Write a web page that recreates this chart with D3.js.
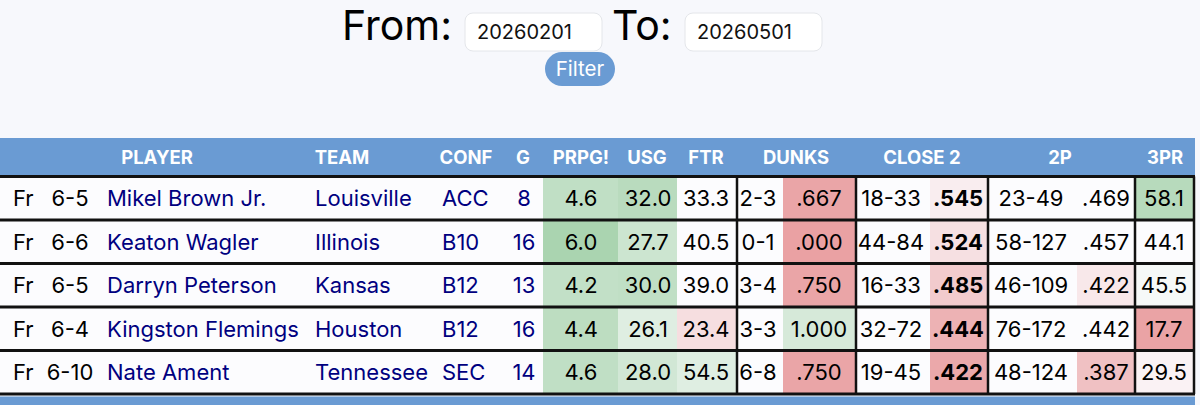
<!DOCTYPE html>
<html>
<head>
<meta charset="utf-8">
<script src="https://cdn.jsdelivr.net/npm/d3@7"></script>
<style>
  html, body { margin: 0; padding: 0; background: #f7f8fc; }
  svg { display: block; }
  text { font-family: Inter, "Liberation Sans", Arial, sans-serif; }
</style>
</head>
<body>
<svg id="chart" width="1200" height="405"></svg>
<script>
// ---- data ----
const fromDate = "20260201";
const toDate = "20260501";
const headers = ["PLAYER", "TEAM", "CONF", "G", "PRPG!", "USG", "FTR", "DUNKS", "CLOSE 2", "2P", "3PR"];
const classes = ["Fr", "Fr", "Fr", "Fr", "Fr"];
const heights = ["6-5", "6-6", "6-5", "6-4", "6-10"];
const players = ["Mikel Brown Jr.", "Keaton Wagler", "Darryn Peterson", "Kingston Flemings", "Nate Ament"];
const teams = ["Louisville", "Illinois", "Kansas", "Houston", "Tennessee"];
const confs = ["ACC", "B10", "B12", "B12", "SEC"];
const games = [8, 16, 13, 16, 14];
const prpg = [4.6, 6.0, 4.2, 4.4, 4.6];
const usg = [32.0, 27.7, 30.0, 26.1, 28.0];
const ftr = [33.3, 40.5, 39.0, 23.4, 54.5];
const dunksMade = [2, 0, 3, 3, 6];
const dunksAtt = [3, 1, 4, 3, 8];
const close2Made = [18, 44, 16, 32, 19];
const close2Att = [33, 84, 33, 72, 45];
const twoPMade = [23, 58, 46, 76, 48];
const twoPAtt = [49, 127, 109, 172, 124];
const threePR = [58.1, 44.1, 45.5, 17.7, 29.5];
// percentile-style ratings used for cell shading (-1 worst .. +1 best)
const prpgRating = [0.62, 0.85, 0.6, 0.66, 0.62];
const usgRating = [0.7, 0.5, 0.62, 0.3, 0.45];
const ftrRating = [0, 0, 0, -0.3, 0.3];
const dunkRating = [-0.88, -0.92, -0.88, 0.4, -0.88];
const close2Rating = [-0.15, -0.28, -0.5, -0.75, -0.85];
const twoPRating = [0, 0, -0.2, 0, -0.6];
const threePRRating = [0.72, 0, 0.06, -0.9, -0.1];

// ---- helpers ----
const f1 = d3.format(".1f");
const pct = v => d3.format(".3f")(v).replace(/^0\./, ".");
const shade = d3.scaleLinear().domain([-1, 0, 1])
  .range(["#e8999b", "#fcfcfe", "#9ccda2"]).interpolate(d3.interpolateRgb).clamp(true);

const svg = d3.select("#chart");

// ---- top filter form ----
svg.append("text").attr("x", 452).attr("y", 40).attr("text-anchor", "end")
  .attr("font-size", 41).attr("fill", "#000").text("From:");
svg.append("text").attr("x", 612).attr("y", 40).attr("text-anchor", "start")
  .attr("font-size", 41).attr("fill", "#000").text("To:");
const inputs = [{x: 465, v: fromDate}, {x: 685, v: toDate}];
const ig = svg.selectAll("g.inp").data(inputs).join("g").attr("class", "inp");
ig.append("rect").attr("x", d => d.x).attr("y", 13).attr("width", 137).attr("height", 38)
  .attr("rx", 8).attr("fill", "#fff").attr("stroke", "#e4e6ea").attr("stroke-width", 1);
ig.append("text").attr("x", d => d.x + 12).attr("y", 39).attr("font-size", 20)
  .attr("fill", "#111").text(d => d.v);
svg.append("rect").attr("x", 545).attr("y", 52).attr("width", 70).attr("height", 34)
  .attr("rx", 17).attr("fill", "#6a9bd3");
svg.append("text").attr("x", 580).attr("y", 76).attr("text-anchor", "middle")
  .attr("font-size", 20.5).attr("fill", "#fff").text("Filter");

// ---- table layout ----
const tableRight = 1195;
const headTop = 138, headBottom = 174;
const y = d3.scaleBand().domain(players).range([176.5, 394]).paddingInner(0);
const bw = y.bandwidth();

// columns (layout): x0,x1, alignment, anchor
const cols = [
  {key: "cls", x0: 0, x1: 44, align: "start", ax: 13, color: "#000", get: i => classes[i]},
  {key: "ht", x0: 44, x1: 92, align: "middle", ax: 70, color: "#000", get: i => heights[i]},
  {key: "player", x0: 92, x1: 305, align: "start", ax: 107, color: "#000080", get: i => players[i]},
  {key: "team", x0: 305, x1: 437, align: "start", ax: 315, color: "#000080", get: i => teams[i]},
  {key: "conf", x0: 437, x1: 505, align: "start", ax: 442, color: "#000080", get: i => confs[i]},
  {key: "g", x0: 505, x1: 543, align: "middle", ax: 524, color: "#000080", get: i => games[i]},
  {key: "prpg", x0: 543, x1: 618, align: "middle", ax: 581, color: "#000", get: i => f1(prpg[i]), rate: prpgRating},
  {key: "usg", x0: 618, x1: 677, align: "middle", ax: 648, color: "#000", get: i => f1(usg[i]), rate: usgRating},
  {key: "ftr", x0: 677, x1: 737, align: "middle", ax: 706, color: "#000", get: i => f1(ftr[i]), rate: ftrRating},
  {key: "dma", x0: 737, x1: 783, align: "middle", ax: 758, color: "#000", get: i => dunksMade[i] + "-" + dunksAtt[i]},
  {key: "dpct", x0: 783, x1: 856, align: "middle", ax: 819, color: "#000", get: i => pct(dunksMade[i] / dunksAtt[i]), rate: dunkRating},
  {key: "cma", x0: 856, x1: 930, align: "middle", ax: 891, color: "#000", get: i => close2Made[i] + "-" + close2Att[i]},
  {key: "cpct", x0: 930, x1: 988, align: "middle", ax: 958, color: "#000", bold: true, get: i => pct(close2Made[i] / close2Att[i]), rate: close2Rating},
  {key: "tma", x0: 988, x1: 1077, align: "middle", ax: 1031, color: "#000", get: i => twoPMade[i] + "-" + twoPAtt[i]},
  {key: "tpct", x0: 1077, x1: 1135, align: "middle", ax: 1106, color: "#000", get: i => pct(twoPMade[i] / twoPAtt[i]), rate: twoPRating},
  {key: "tpr", x0: 1135, x1: 1194, align: "middle", ax: 1164, color: "#000", get: i => f1(threePR[i]), rate: threePRRating}
];
const headerX = [157, 342, 466, 523, 581, 647, 706, 796, 922, 1060, 1165];

// header band
svg.append("rect").attr("x", 0).attr("y", headTop).attr("width", tableRight).attr("height", headBottom - headTop + 1)
  .attr("fill", "#6a9bd3");
svg.selectAll("text.hdr").data(headers).join("text").attr("class", "hdr")
  .attr("x", (d, i) => headerX[i]).attr("y", 164).attr("text-anchor", "middle")
  .attr("font-size", 18.5).attr("font-weight", 700).attr("fill", "#fff").text(d => d);

// rows background
const idx = d3.range(players.length);
svg.selectAll("rect.rowbg").data(idx).join("rect").attr("class", "rowbg")
  .attr("x", 0).attr("y", i => y(players[i])).attr("width", tableRight).attr("height", bw)
  .attr("fill", "#fcfcfe");

// shaded cells
cols.filter(c => c.rate).forEach(c => {
  svg.selectAll("rect.cell-" + c.key).data(idx).join("rect").attr("class", "cell-" + c.key)
    .attr("x", c.x0).attr("y", i => y(players[i])).attr("width", c.x1 - c.x0).attr("height", bw)
    .attr("fill", i => shade(c.rate[i]));
});

// text cells
cols.forEach(c => {
  svg.selectAll("text.t-" + c.key).data(idx).join("text").attr("class", "t-" + c.key)
    .attr("x", c.ax).attr("y", i => y(players[i]) + bw / 2 + 8)
    .attr("text-anchor", c.align).attr("font-size", 22)
    .attr("font-weight", c.bold ? 700 : 400)
    .attr("fill", c.color).text(i => c.get(i));
});

// horizontal rules
const hLines = [y(players[0])].concat(idx.map(i => y(players[i]) + bw));
svg.selectAll("line.h").data(hLines).join("line").attr("class", "h")
  .attr("x1", 0).attr("x2", tableRight).attr("y1", d => d).attr("y2", d => d)
  .attr("stroke", "#111").attr("stroke-width", 3);

// vertical group rules
const vLines = [737, 856, 988, 1135, 1194];
svg.selectAll("line.v").data(vLines).join("line").attr("class", "v")
  .attr("x1", d => d).attr("x2", d => d).attr("y1", y(players[0])).attr("y2", y(players[players.length - 1]) + bw)
  .attr("stroke", "#111").attr("stroke-width", 2.5);

// bottom band (next header)
svg.append("rect").attr("x", 0).attr("y", 396.5).attr("width", tableRight).attr("height", 12)
  .attr("fill", "#6a9bd3");
</script>
</body>
</html>
